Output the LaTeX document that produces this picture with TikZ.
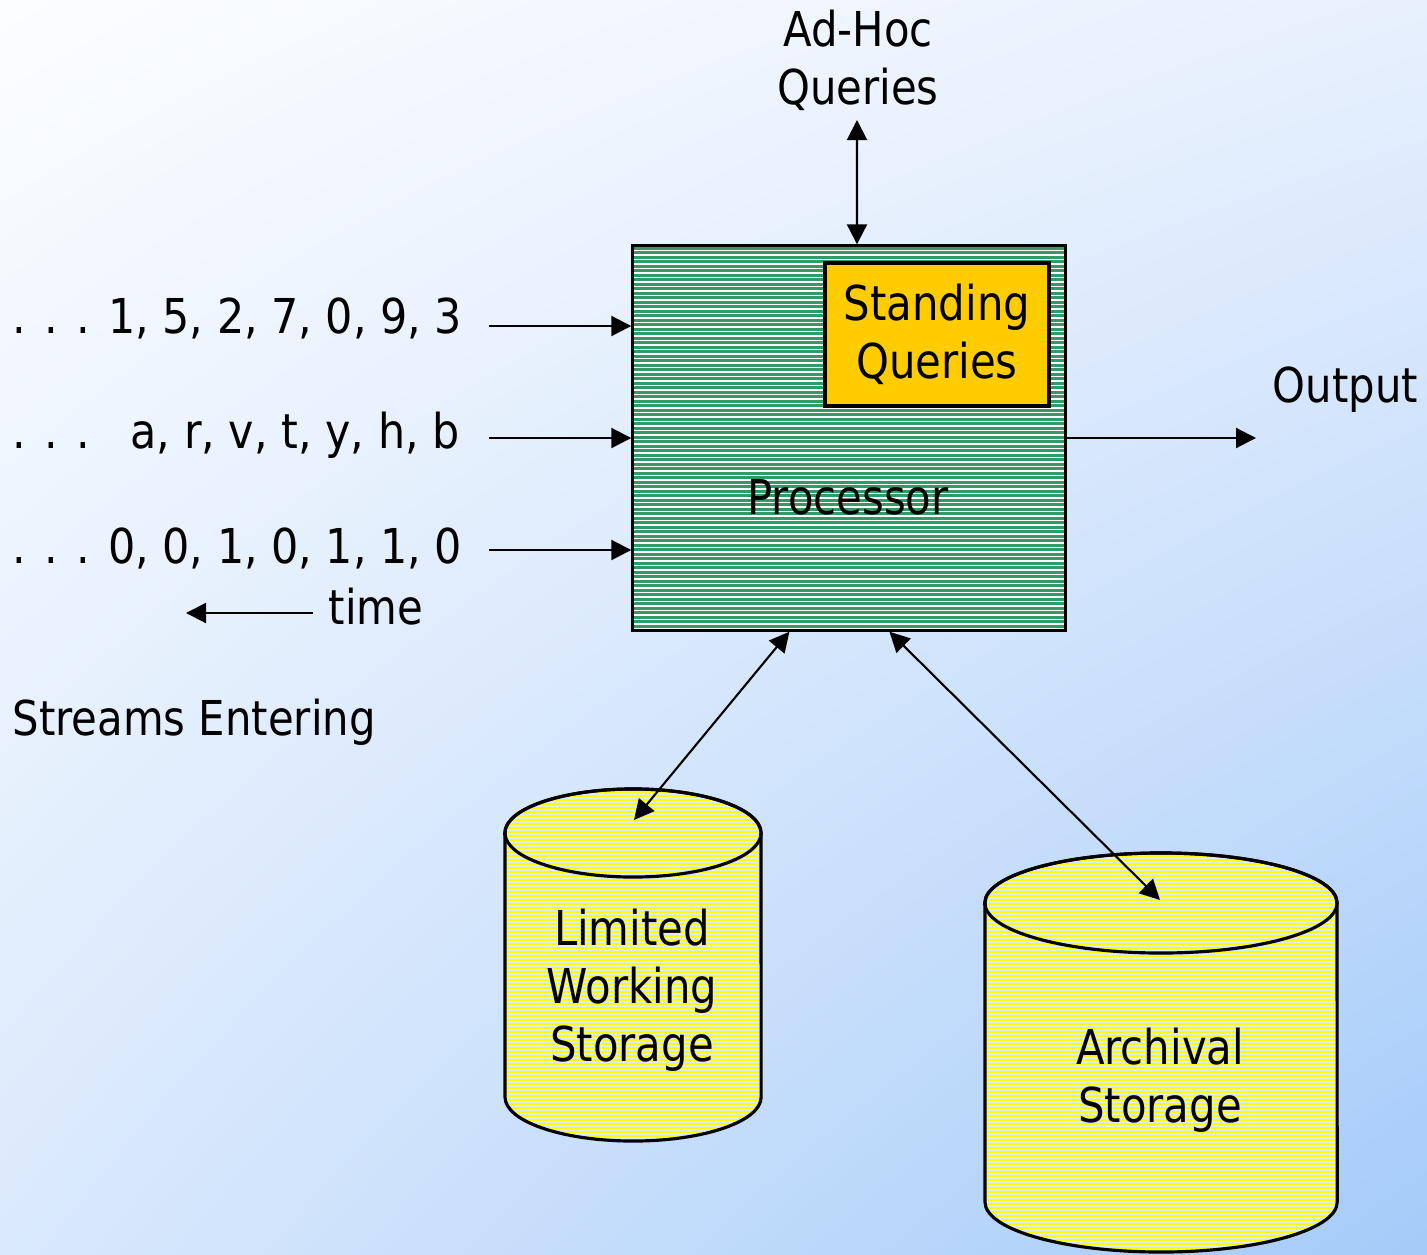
\documentclass[tikz,border=0pt]{standalone}
\usepackage{fontspec}
\setmainfont{DejaVu Sans}[FakeStretch=0.87]
\usetikzlibrary{arrows.meta,calc,shadings}
\definecolor{procgreen}{HTML}{339966}
\definecolor{sqgold}{HTML}{FFCC00}
\definecolor{cylyellow}{HTML}{FFFF00}
\definecolor{cylline}{HTML}{DCEAFA}
\definecolor{bgtl}{HTML}{FCFDFF}
\definecolor{bgtr}{HTML}{E8F0FD}
\definecolor{bgbl}{HTML}{DAE9FC}
\definecolor{bgbr}{HTML}{A4CBF9}
\begin{document}
\begin{tikzpicture}[x=0.01cm,y=-0.01cm,
  font=\fontsize{13.66}{16.5}\selectfont,
  >={Triangle[length=0.2cm,width=0.2cm]},
  conn/.style={line width=0.6pt},
  txt/.style={inner sep=0pt,align=center},
  stream/.style={txt,anchor=west,xscale=1.025},
  boxline/.style={draw,line width=0.9pt},
  stripe/.style={cylline,line width=0.3pt}]
\useasboundingbox (0,0) rectangle (1427,1254);
\shade[upper left=bgtl,upper right=bgtr,lower left=bgbl,lower right=bgbr]
  (0,0) rectangle (1427,1254);

% Processor
\node[boxline,fill=procgreen,minimum width=4.32cm,minimum height=3.84cm,inner sep=0pt,
  path picture={\foreach \k in {1,...,86}
    \draw[white,line width=0.42pt] ([yshift=-\k*0.045cm]path picture bounding box.north west) -- ++(5cm,0);}]
  (proc) at (849,438) {};
\node[boxline,fill=sqgold,minimum width=2.24cm,minimum height=1.43cm,inner sep=0pt,align=center]
  (sq) at (937,334.5) {Standing\\Queries};
\node[txt] (proctext) at (848,497) {Processor};

% Ad-hoc
\node[txt] (adhoc) at (858,60) {Ad-Hoc\\Queries};
\coordinate (aqend) at (857,120);
\draw[conn,<->] (aqend) -- ([xshift=0.08cm]proc.north);

% Streams
\node[stream] (s1) at (12,318) {. . . 1, 5, 2, 7, 0, 9, 3};
\node[stream] (s2) at (12,435) {. . . \hspace{0.22cm}a, r, v, t, y, h, b};
\node[stream] (s3) at (12,548) {. . . 0, 0, 1, 0, 1, 1, 0};
\coordinate (a1) at (489,326);
\coordinate (a2) at (489,438);
\coordinate (a3) at (489,550);
\draw[conn,->] (a1) -- (a1 -| proc.west);
\draw[conn,->] (a2) -- (a2 -| proc.west);
\draw[conn,->] (a3) -- (a3 -| proc.west);
\node[txt,anchor=west] (time) at (328,607) {time};
\coordinate (tstart) at (313,613);
\coordinate (tend) at (186,613);
\draw[conn,->] (tstart) -- (tend);
\node[txt,anchor=west] (streams) at (12,722) {Streams Entering};

% Output
\node[txt,anchor=west] (out) at (1272,390) {Output};
\coordinate (outend) at (1256,438);
\draw[conn,->] (proc.east) -- (outend);

% Limited working storage cylinder
\begin{scope}
  \clip (505,833) -- (505,1097) arc[start angle=180,end angle=360,x radius=1.28cm,y radius=0.44cm]
        -- (761,833) arc[start angle=0,end angle=180,x radius=1.28cm,y radius=0.44cm] -- cycle;
  \fill[cylyellow] (500,780) rectangle (770,1150);
  \foreach \y in {790,794,...,1146} \draw[stripe] (500,\y) -- (770,\y);
\end{scope}
\draw[line width=0.9pt] (505,833) -- (505,1097) arc[start angle=180,end angle=360,x radius=1.28cm,y radius=0.44cm]
        -- (761,833) arc[start angle=0,end angle=180,x radius=1.28cm,y radius=0.44cm] -- cycle;
\draw[line width=0.9pt] (633,833) ellipse[x radius=1.28cm,y radius=0.44cm];
\node[txt] (lws) at (632,990) {Limited\\Working\\Storage};
\coordinate (limtop) at (634,820);

% Archival storage cylinder
\begin{scope}
  \clip (985,903) -- (985,1202) arc[start angle=180,end angle=360,x radius=1.76cm,y radius=0.5cm]
        -- (1337,903) arc[start angle=0,end angle=180,x radius=1.76cm,y radius=0.5cm] -- cycle;
  \fill[cylyellow] (980,850) rectangle (1340,1254);
  \foreach \y in {854,858,...,1254} \draw[stripe] (980,\y) -- (1340,\y);
\end{scope}
\draw[line width=0.9pt] (985,903) -- (985,1202) arc[start angle=180,end angle=360,x radius=1.76cm,y radius=0.5cm]
        -- (1337,903) arc[start angle=0,end angle=180,x radius=1.76cm,y radius=0.5cm] -- cycle;
\draw[line width=0.9pt] (1161,903) ellipse[x radius=1.76cm,y radius=0.5cm];
\node[txt] (arch) at (1160,1080) {Archival\\Storage};
\coordinate (archtop) at (1160,900);

% Storage connectors
\draw[conn,<->] ([xshift=1.58cm]proc.south west) -- (limtop);
\draw[conn,<->] ([xshift=2.58cm]proc.south west) -- (archtop);
\end{tikzpicture}
\end{document}
